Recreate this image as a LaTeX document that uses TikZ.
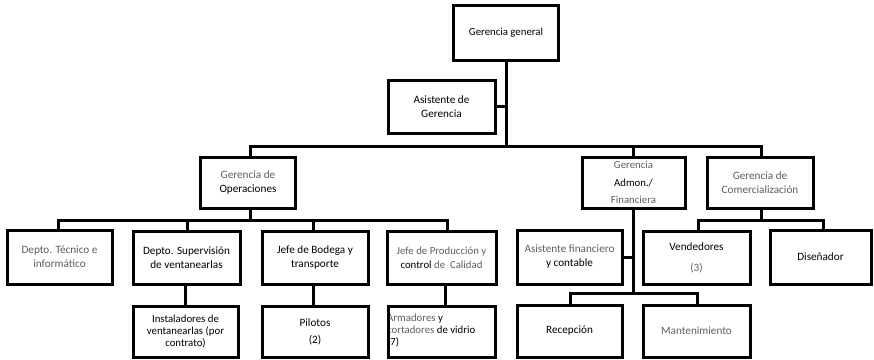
\documentclass[tikz,border=0pt]{standalone}
\usepackage{fontspec}
\setmainfont{Carlito}
\definecolor{txtgray}{HTML}{5E5E5E}
\tikzset{
  x=1pt, y=-1pt,
  box/.style={draw=black, line width=3pt, fill=white, inner sep=1pt, align=center,
    font=\fontsize{11.2}{14}\selectfont, text=black},
  wire/.style={draw=black, line width=3pt},
}
\begin{document}
\begin{tikzpicture}
\useasboundingbox (0,0) rectangle (874,359);
% drop coordinates
\coordinate (b1) at (506,146);
\coordinate (b2) at (250,220);
\coordinate (b3) at (633,293);
\coordinate (b4) at (761,220);
% level 0/1
\node[box, minimum width=105pt, minimum height=55pt, font=\fontsize{10.8}{14}\selectfont] (gg) at (506,32.5) {Gerencia general};
\node[box, minimum width=107pt, minimum height=53pt] (ag) at (441.5,106.5) {Asistente de\\Gerencia};
% level 2
\node[box, minimum width=95pt, minimum height=51pt] (go) at (248,182.5) {\textcolor{txtgray}{Gerencia de}\\Operaciones};
\node[box, minimum width=103pt, minimum height=51pt, font=\fontsize{10.8}{17.5}\selectfont] (ga) at (633.5,182.5) {\textcolor{txtgray}{Gerencia}\\Admon./\\\textcolor{txtgray}{Financiera}};
\node[box, minimum width=106pt, minimum height=51pt, text=txtgray] (gc) at (760,182.5) {Gerencia de\\Comercialización};
% level 3
\node[box, minimum width=105pt, minimum height=54pt, text=txtgray] (dt) at (59.5,257) {Depto. Técnico e\\informático};
\node[box, minimum width=107pt, minimum height=53pt] (ds) at (186.5,257.5) {Depto. Supervisión\\de ventanearlas};
\node[box, minimum width=106pt, minimum height=53pt] (jb) at (315,257.5) {Jefe de Bodega y\\transporte};
\node[box, minimum width=109pt, minimum height=53pt, font=\fontsize{10.8}{14}\selectfont] (jp) at (441.5,257.5) {\textcolor{txtgray}{Jefe de Producción y}\\control \textcolor{txtgray}{de\ \ Calidad}};
\node[box, minimum width=105pt, minimum height=54pt] (af) at (569.5,257) {\textcolor{txtgray}{Asistente financiero}\\y contable};
\node[box, minimum width=107pt, minimum height=53pt, font=\fontsize{11.2}{21}\selectfont] (ve) at (696.5,257.5) {Vendedores\\\textcolor{txtgray}{(3)}};
\node[box, minimum width=101pt, minimum height=54pt] (di) at (820.5,257) {Diseñador};
% level 4
\node[box, minimum width=105pt, minimum height=51pt, font=\fontsize{10.8}{12}\selectfont] (in) at (185.5,331.5) {Instaladores de\\ventanearlas (por\\contrato)};
\node[box, minimum width=106pt, minimum height=51pt, font=\fontsize{11.2}{17}\selectfont] (pi) at (315,331.5) {Pilotos\\(2)};
\node[anchor=west, inner sep=0pt, align=left, font=\fontsize{10.8}{12}\selectfont] (artxt) at (387,330) {\textcolor{txtgray}{Armadores} y\\\textcolor{txtgray}{cortadores} de vidrio\\(7)};
\node[box, fill=none, minimum width=107pt, minimum height=51pt] (ar) at (441.5,331.5) {};
\node[box, minimum width=105pt, minimum height=52pt] (re) at (569.5,331) {Recepción};
\node[box, minimum width=107pt, minimum height=52pt, text=txtgray] (ma) at (696.5,331) {Mantenimiento};
% top
\draw[wire] (gg.south) -- (b1);
\draw[wire] (ag.east) -- (ag.east -| b1);
\draw[wire] (b2 |- go.north) -- (b2 |- b1) -- (b4 |- b1) -- (b4 |- gc.north);
\draw[wire] (b3 |- b1) -- (b3 |- ga.north);
% operaciones
\draw[wire] (b2 |- go.south) -- (b2);
\draw[wire] (58,0 |- dt.north) -- (58,220) -- (447,220) -- (447,0 |- jp.north);
\draw[wire] (187,220) -- (187,0 |- ds.north);
\draw[wire] (313,220) -- (313,0 |- jb.north);
% vertical sub links
\draw[wire] (185,0 |- ds.south) -- (185,0 |- in.north);
\draw[wire] (313,0 |- jb.south) -- (313,0 |- pi.north);
\draw[wire] (445,0 |- jp.south) -- (445,0 |- ar.north);
% admon
\draw[wire] (b3 |- ga.south) -- (b3);
\draw[wire] (af.east) -- (af.east -| b3);
\draw[wire] (570,0 |- re.north) -- (570,293) -- (697,293) -- (697,0 |- ma.north);
% comercializacion
\draw[wire] (b4 |- gc.south) -- (b4);
\draw[wire] (698,0 |- ve.north) -- (698,220) -- (823,220) -- (823,0 |- di.north);
\end{tikzpicture}
\end{document}
